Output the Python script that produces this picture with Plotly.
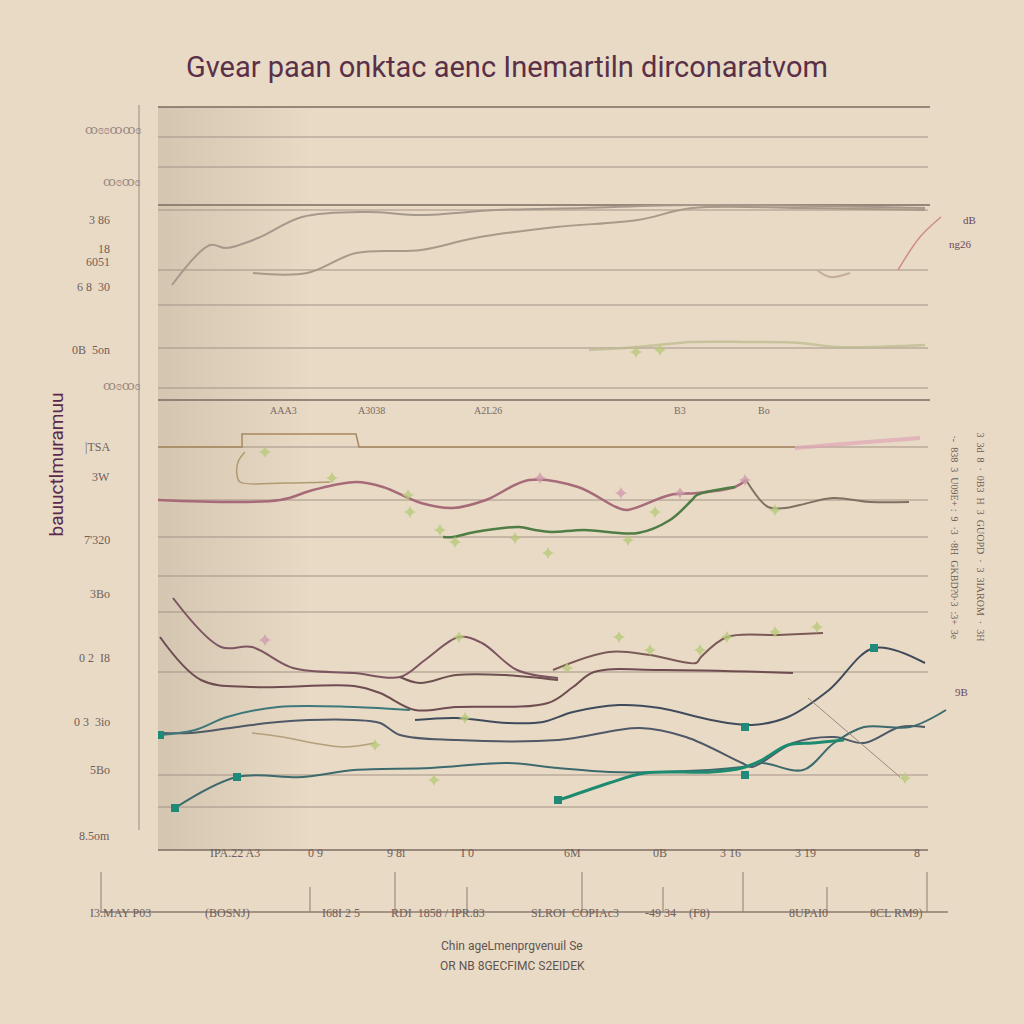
import plotly.graph_objects as go

# ---------------- data (x: period index, y: value index) ----------------
X_RANGE = [0, 80.2]
Y_RANGE = [0, 74.5]

grid_y = [71.3, 68.3, 64.0, 58.0, 54.5, 50.2, 46.2, 40.3, 35.0, 31.3, 27.4, 23.8, 17.8, 7.5, 4.3]
grid_dark_y = [74.3, 64.5, 45.0]

# top panel
t1_x = [1.4, 5.2, 6.8, 10.0, 14.4, 20.9, 26.3, 33.9, 42.6, 53.4, 76.7]
t1_y = [56.5, 60.5, 60.2, 61.2, 63.3, 63.8, 63.5, 64.0, 64.2, 64.5, 64.2]
t2_x = [9.5, 14.9, 19.8, 26.3, 31.7, 39.8, 48.0, 53.4, 64.2, 76.7]
t2_y = [57.7, 57.7, 59.7, 60.0, 61.2, 62.3, 63.0, 64.2, 64.2, 64.0]
t3_x = [74.0, 76.2, 78.3]
t3_y = [58.0, 61.3, 63.3]
tsq_x = [65.9, 67.2, 69.2]
tsq_y = [58.0, 57.3, 57.7]
tg_x = [43.1, 48.0, 53.4, 58.8, 64.2, 68.0, 76.7]
tg_y = [50.0, 50.3, 50.8, 50.8, 50.7, 50.3, 50.5]

# middle panel
step_x = [0, 8.4, 8.4, 19.8, 20.1, 63.7]
step_y = [40.3, 40.3, 41.6, 41.6, 40.3, 40.3]
brk_x = [8.7, 8.0, 7.9, 8.2, 12.7, 17.2]
brk_y = [39.8, 38.8, 37.5, 36.8, 36.7, 36.8]
pink_x = [0, 12.2, 15.5, 19.8, 22.5, 26.3, 29.5, 32.8, 37.1, 42.0, 45.8, 46.9, 51.2, 53.9, 57.7, 58.8]
pink_y = [35.0, 35.0, 36.0, 36.8, 36.3, 34.7, 34.2, 35.0, 37.0, 36.3, 34.3, 34.0, 35.5, 35.7, 36.3, 37.0]
cont_x = [58.8, 61.0, 62.7, 64.2, 67.5, 71.2, 75.1]
cont_y = [37.0, 34.3, 34.2, 34.5, 35.2, 34.8, 34.8]
green_x = [28.5, 29.5, 31.7, 36.1, 37.7, 39.3, 42.6, 48.0, 51.2, 53.4, 53.9, 57.7]
green_y = [31.3, 31.3, 31.8, 32.3, 32.0, 31.8, 32.0, 31.7, 33.0, 35.0, 35.5, 36.3]
rpink_x = [63.7, 69.7, 76.2]
rpink_y = [40.2, 40.7, 41.2]

# bottom panel
a_x = [1.5, 6.3, 9.4, 13.5, 19.6, 24.2, 26.7, 30.1, 32.4, 35.9, 40.0]
a_y = [25.2, 20.3, 20.3, 18.2, 17.7, 17.3, 19.0, 21.3, 20.7, 18.0, 17.2]
b_x = [0.2, 4.3, 9.4, 19.6, 22.2, 25.7, 29.8, 39.0, 41.5, 43.6, 50.2, 63.5]
b_y = [21.3, 17.0, 16.3, 16.4, 15.7, 14.0, 14.3, 14.7, 16.3, 17.8, 18.0, 17.7]
c_x = [24.2, 26.2, 29.8, 34.7, 40.0]
c_y = [17.3, 16.7, 17.5, 17.5, 17.0]
d_x = [39.5, 45.1, 49.2, 53.8, 54.3, 56.9, 62.0, 66.5]
d_y = [18.0, 19.8, 19.5, 18.7, 19.3, 21.3, 21.5, 21.7]
e_x = [25.7, 29.8, 34.9, 38.5, 41.5, 46.1, 50.2, 55.3, 59.4, 63.0, 67.1, 71.6, 76.7]
e_y = [13.0, 13.2, 12.7, 12.8, 13.8, 14.5, 14.2, 13.0, 12.5, 13.3, 16.0, 20.2, 18.7]
f_x = [0.2, 3.3, 7.9, 12.0, 19.6, 22.2, 24.2, 29.8, 40.0, 48.2, 52.8, 58.4, 59.4, 63.5, 67.6, 70.6, 74.2, 76.7]
f_y = [11.7, 11.7, 12.3, 12.8, 13.0, 12.7, 11.5, 11.0, 11.0, 12.2, 11.3, 8.7, 8.3, 10.7, 11.3, 10.7, 12.3, 12.3]
g_x = [0.2, 3.7, 6.9, 12.0, 19.6, 25.2]
g_y = [11.5, 12.0, 13.3, 14.3, 14.3, 14.0]
h_x = [1.7, 7.9, 14.5, 19.6, 27.3, 34.9, 40.0, 45.1, 50.2, 58.4, 60.4, 64.5, 67.6, 70.6, 75.2, 78.8]
h_y = [4.2, 7.3, 7.3, 8.0, 8.2, 8.7, 8.2, 7.8, 7.8, 8.3, 8.7, 8.0, 10.7, 12.3, 12.3, 14.0]
i_x = [40.0, 41.0, 45.1, 48.7, 55.3, 58.4, 60.4, 63.0, 65.5, 68.6]
i_y = [5.0, 5.3, 6.7, 7.7, 7.8, 8.2, 9.0, 10.5, 10.7, 11.0]
j_x = [9.4, 12.5, 15.5, 18.6, 21.7]
j_y = [11.7, 11.3, 10.7, 10.3, 10.7]
k_x = [65.0, 74.2]
k_y = [15.2, 7.3]

gm_x = [30.1, 46.1, 49.2, 54.2, 56.9, 61.7, 65.9, 40.9, 21.7, 27.6, 30.7, 74.7,
        10.7, 17.4, 25.2, 25.0, 29.7, 35.7, 39.0, 47.0, 49.7, 61.7, 28.2, 50.2, 47.8]
gm_y = [21.3, 21.3, 20.0, 20.0, 21.3, 21.8, 22.3, 18.2, 10.5, 7.0, 13.2, 7.2,
        39.8, 37.2, 33.8, 35.5, 30.8, 31.2, 29.7, 31.0, 33.8, 34.0, 32.0, 50.0, 49.8]
pm_x = [10.7, 38.2, 46.3, 58.7, 52.2]
pm_y = [21.0, 37.2, 35.7, 37.0, 35.7]
sq_x = [1.7, 7.9, 40.0, 71.6, 58.7, 0.2, 58.7]
sq_y = [4.2, 7.3, 5.0, 20.2, 12.3, 11.5, 7.5]

# text
title_text = "Gvear paan onktac aenc Inemartiln dirconaratvom"
ytick_vals = [63.9, 61.0, 59.7, 57.2, 50.9, 40.3, 37.3, 31.0, 24.7, 18.3, 11.9, 7.1, 0.5]
ytick_text = ["3 86", "18", "6051", "6 8  30", "0B  5on", "|TSA", "3W", "7'320", "3Bo", "0 2  I8", "0 3  3io", "5Bo", "8.5om"]
smudge_vals = [73.0, 67.8, 46.5]
smudge_text = ["ꝏɞɞꝏꝏɞ", "ꝏɞꝏɞ", "ꝏɞꝏɞ"]
xtick_vals = [5.0, 14.8, 22.7, 31.0, 41.4, 50.2, 58.5, 66.0, 76.4]
xtick_text = ["IPA.22 A3", "0 9", "9 8i", "I 0", "6M", "0B", "3 16", "3 19", "8"]
x2tick_vals = [-5.7, 15.2, 23.7, 30.9, 42.4, 50.5, 58.5, 66.9, 76.9]
x2lab_vals = [-7.0, 4.5, 16.2, 28.0, 41.7, 50.2, 55.4, 67.2, 76.7]
x2lab_text = ["I3.MAY P03", "(BOSNJ)", "I68I 2 5", "RDI  1858 / IPR.83", "SLROI  COPIAc3",
              "-49 34", "(F8)", "8UPAI0", "8CL RM9)"]
toplab_vals = [11.0, 19.8, 33.0, 52.2, 61.4]
toplab_text = ["AAA3", "A3038", "A2L26", "B3", "Bo"]
xtitle_lines = ["Chin ageLmenprgvenuil Se", "OR NB 8GECFIMC S2EIDEK"]
ytitle_text = "bauuctlmuramuu"
right_text = ["·-  838  3  U09E+ :  9  ·3  ·8H  GKBD?0·3  :3+  3e",
              "3  3d  8  ·  0B3  H  3  GUOPD  ·  3  3IAROM  ·  3H"]
rlab_text = ["dB", "ng26", "9B"]
rlab_vals = [63.8, 61.4, 15.0]

# ---------------- figure ----------------
BG = "#e9dac6"
fig = go.Figure()


def xp(v):
    return (v - X_RANGE[0]) / (X_RANGE[1] - X_RANGE[0])


def yp(v):
    return (v - Y_RANGE[0]) / (Y_RANGE[1] - Y_RANGE[0])


def line(x, y, color, width=2, shape="spline", opacity=1.0):
    fig.add_trace(go.Scatter(x=x, y=y, mode="lines", opacity=opacity,
                             line=dict(color=color, width=width, shape=shape, smoothing=1.0),
                             hoverinfo="skip", showlegend=False))


line(t1_x, t1_y, "#a5998c", 2)
line(t2_x, t2_y, "#a89a86", 2)
line(t3_x, t3_y, "#cf8e84", 1.5)
line(tsq_x, tsq_y, "#c4ae98", 2)
line(tg_x, tg_y, "#bcbc8e", 2.5, opacity=0.75)

line(step_x, step_y, "#a8865e", 1.5, shape="linear")
line(brk_x, brk_y, "#b09a70", 1.5)
line(pink_x, pink_y, "#a66a78", 2.5)
line(cont_x, cont_y, "#7d7262", 2)
line(green_x, green_y, "#4f7d45", 2.5)
line(rpink_x, rpink_y, "#dea6b6", 4, opacity=0.7)

line(a_x, a_y, "#7d5560", 2)
line(b_x, b_y, "#6e4c50", 2)
line(c_x, c_y, "#6e5050", 2)
line(d_x, d_y, "#7a5a55", 2)
line(e_x, e_y, "#3f4b5a", 2)
line(f_x, f_y, "#4e5866", 2)
line(g_x, g_y, "#3e7878", 2)
line(h_x, h_y, "#3d6a6d", 2)
line(i_x, i_y, "#1e8a70", 3)
line(j_x, j_y, "#b3a07a", 1.5)
line(k_x, k_y, "#a08878", 1)

fig.add_trace(go.Scatter(x=gm_x, y=gm_y, mode="markers", showlegend=False, hoverinfo="skip",
                         marker=dict(symbol="star-diamond", size=9, color="#b7c978", opacity=0.8)))
fig.add_trace(go.Scatter(x=pm_x, y=pm_y, mode="markers", showlegend=False, hoverinfo="skip",
                         marker=dict(symbol="star-diamond", size=9, color="#d09aaa", opacity=0.8)))
fig.add_trace(go.Scatter(x=sq_x, y=sq_y, mode="markers", showlegend=False, hoverinfo="skip",
                         marker=dict(symbol="square", size=8, color="#1f8a7a")))

shapes = []
# left shading band
for k in range(1, 21):
    shapes.append(dict(type="rect", xref="x", yref="y", x0=0, x1=k * 0.75, y0=0, y1=74.3,
                       fillcolor="rgba(150,115,85,0.009)", line=dict(width=0), layer="below"))
for gy in grid_y:
    shapes.append(dict(type="line", xref="x", yref="y", x0=0, x1=77.0, y0=gy, y1=gy,
                       line=dict(color="#a39283", width=1.2), layer="below"))
for gy in grid_dark_y:
    shapes.append(dict(type="line", xref="x", yref="y", x0=0, x1=77.2, y0=gy, y1=gy,
                       line=dict(color="#7d6a60", width=1.6), layer="below"))
# bottom axis
shapes.append(dict(type="line", xref="paper", yref="paper", x0=0, x1=xp(77.0), y0=0, y1=0,
                   line=dict(color="#7d6c62", width=1.6)))
# left axis line
shapes.append(dict(type="line", xref="paper", yref="paper", x0=xp(-1.9), x1=xp(-1.9), y0=yp(2.0), y1=yp(74.5),
                   line=dict(color="#a8988a", width=1.2)))
# secondary axis
shapes.append(dict(type="line", xref="paper", yref="paper", x0=xp(-5.8), x1=xp(79.0), y0=yp(-6.2), y1=yp(-6.2),
                   line=dict(color="#8c7c70", width=1.3)))
for i, tv in enumerate(x2tick_vals):
    top = -2.2 if i % 2 == 0 else -3.7
    shapes.append(dict(type="line", xref="paper", yref="paper", x0=xp(tv), x1=xp(tv), y0=yp(-6.2), y1=yp(top),
                       line=dict(color="#8c7c70", width=1)))

ann = []
FONT_T = "Liberation Sans Narrow, Roboto, sans-serif"
FONT_L = "Liberation Serif, DejaVu Serif, serif"


def add_text(x, y, text, size, color, family=FONT_L, **kw):
    ann.append(dict(x=xp(x), y=yp(y), xref="paper", yref="paper", text=text, showarrow=False,
                    font=dict(family=family, size=size, color=color), **kw))


add_text(34.9, 80.2, title_text, 29, "#5a3048", family=FONT_T)
for v, t in zip(ytick_vals, ytick_text):
    add_text(-4.6, v, t, 12, "#6f5f5a", xanchor="right")
for v, t in zip(smudge_vals, smudge_text):
    add_text(-1.5, v, t, 13, "#9a8a84", xanchor="right")
for v, t in zip(xtick_vals, xtick_text):
    add_text(v, -1.2, t, 12, "#6f5f5a")
for v, t in zip(x2lab_vals, x2lab_text):
    add_text(v, -7.2, t, 12, "#6f5f5a")
for v, t in zip(toplab_vals, toplab_text):
    add_text(v, 44.0, t, 10, "#7a6a62")
for k, t in enumerate(xtitle_lines):
    add_text(35.4, -10.5 - 2.0 * k, t, 12, "#5f5550", family=FONT_T)
add_text(-11.6, 38.5, ytitle_text, 19, "#5a2a4a", family=FONT_T, textangle=-90)
for k, t in enumerate(right_text):
    add_text(80.4 + 2.6 * k, 31.3, t, 10, "#6a5a55", textangle=90)
for k, (v, t) in enumerate(zip(rlab_vals, rlab_text)):
    add_text(82.0 - 0.4 * k, v, t, 11, "#6a4a5a")

fig.update_layout(
    width=1024, height=1024,
    margin=dict(l=158, r=64, t=105, b=174),
    paper_bgcolor=BG, plot_bgcolor=BG,
    xaxis=dict(range=X_RANGE, showgrid=False, zeroline=False, showticklabels=False, showline=False),
    yaxis=dict(range=Y_RANGE, showgrid=False, zeroline=False, showticklabels=False, showline=False),
    shapes=shapes, annotations=ann, showlegend=False,
)
fig.write_html("out.html", config={"displayModeBar": False},
               post_script="document.body.style.margin='0';document.body.style.background='#e9dac6';")
